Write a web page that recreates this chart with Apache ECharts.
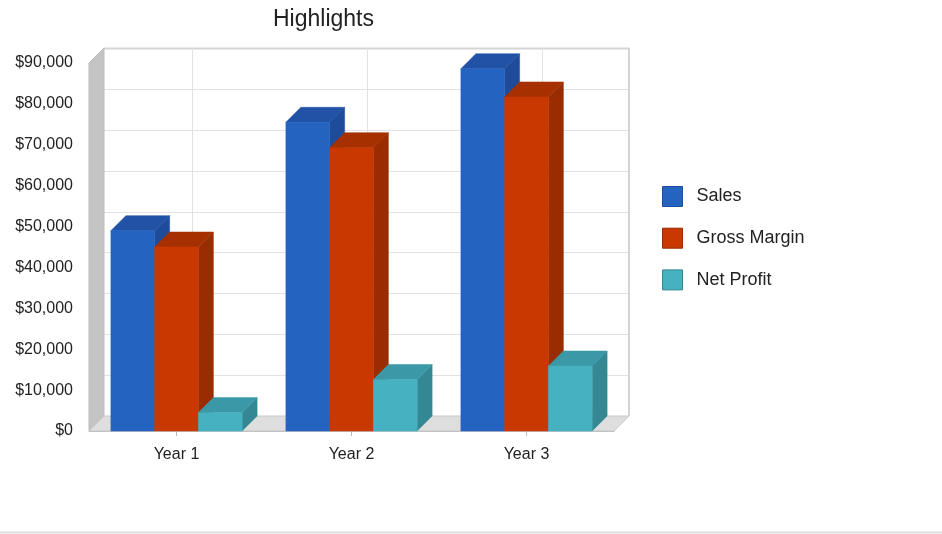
<!DOCTYPE html>
<html>
<head>
<meta charset="utf-8">
<script src="https://cdn.jsdelivr.net/npm/echarts@6/dist/echarts.min.js"></script>
<style>
html,body{margin:0;padding:0;background:#fff;}
#chart{width:942px;height:534px;}
</style>
</head>
<body>
<div id="chart"></div>
<script>
const categories = ['Year 1', 'Year 2', 'Year 3'];
const seriesNames = ['Sales', 'Gross Margin', 'Net Profit'];
const sales = [49000, 75500, 88600];
const grossMargin = [45000, 69300, 81700];
const netProfit = [4500, 12600, 15900];
const yMin = 0, yMax = 90000, yStep = 10000;

const DX = 15, DY = -15;
const FONT = '"Liberation Sans", Arial, sans-serif';

const palettes = [
  { front: '#2563C1', top: '#2152A6', side: '#1E4C9A' },
  { front: '#C83800', top: '#A63000', side: '#992C00' },
  { front: '#46B1C1', top: '#3B99A7', side: '#348893' }
];

function fmt(v) {
  return '$' + String(v).replace(/\B(?=(\d{3})+(?!\d))/g, ',');
}

function barRenderer(sIdx) {
  const p = palettes[sIdx];
  return function (params, api) {
    const ci = api.value(0), v = api.value(1);
    const c = api.coord([ci, v]);
    const b = api.coord([ci, 0]);
    const catW = api.size([1, 0])[0];
    const bw = catW * 0.25;
    const x = c[0] + (sIdx - 1) * bw - bw / 2;
    const yT = c[1], yB = b[1];
    return {
      type: 'group',
      children: [
        { type: 'polygon', shape: { points: [[x + bw, yT], [x + bw + DX, yT + DY], [x + bw + DX, yB + DY], [x + bw, yB]] },
          style: { fill: p.side, stroke: p.side, lineWidth: 0.5 } },
        { type: 'polygon', shape: { points: [[x, yT], [x + DX, yT + DY], [x + bw + DX, yT + DY], [x + bw, yT]] },
          style: { fill: p.top, stroke: p.top, lineWidth: 0.5 } },
        { type: 'rect', shape: { x: x, y: yT, width: bw, height: yB - yT },
          style: { fill: p.front, stroke: p.front, lineWidth: 0.5 } }
      ]
    };
  };
}

function frameRenderer(params, api) {
  const cs = params.coordSys;
  const x0 = cs.x, x1 = cs.x + cs.width, yt = cs.y, yb = cs.y + cs.height;
  const children = [];
  children.push({ type: 'rect', shape: { x: x0 + DX, y: yt + DY, width: cs.width, height: cs.height },
    style: { fill: '#ffffff' } });
  for (let v = yMin; v <= yMax; v += yStep) {
    const y = Math.round(api.coord([0, v])[1] + DY) + 0.5;
    children.push({ type: 'line', shape: { x1: x0 + DX, y1: y, x2: x1 + DX, y2: y },
      style: { stroke: v === yMax ? '#D4D4D4' : '#E2E2E2', lineWidth: v === yMax ? 2 : 1 } });
  }
  categories.forEach(function (c, i) {
    const x = Math.round(api.coord([i, 0])[0] + DX) + 0.5;
    children.push({ type: 'line', shape: { x1: x, y1: yt + DY, x2: x, y2: yb + DY },
      style: { stroke: '#E2E2E2', lineWidth: 1 } });
  });
  children.push({ type: 'line', shape: { x1: x1 + DX, y1: yt + DY, x2: x1 + DX, y2: yb + DY },
    style: { stroke: '#D4D4D4', lineWidth: 2 } });
  children.push({ type: 'polygon', shape: { points: [[x0, yt], [x0 + DX, yt + DY], [x0 + DX, yb + DY], [x0, yb]] },
    style: { fill: '#C4C4C4', stroke: '#BDBDBD', lineWidth: 1 } });
  children.push({ type: 'polygon', shape: { points: [[x0, yb], [x0 + DX, yb + DY], [x1 + DX, yb + DY], [x1, yb]] },
    style: { fill: '#DEDEDE', stroke: '#C8C8C8', lineWidth: 1 } });
  return { type: 'group', children: children };
}

const dataSets = [sales, grossMargin, netProfit];

const chart = echarts.init(document.getElementById('chart'), null, { renderer: 'canvas' });
chart.setOption({
  animation: false,
  backgroundColor: '#ffffff',
  title: {
    text: 'Highlights', left: 268, top: 3,
    textStyle: { fontFamily: FONT, fontSize: 23, fontWeight: 'normal', color: '#222222' }
  },
  legend: {
    orient: 'vertical', left: 657, top: 181,
    itemWidth: 20, itemHeight: 20, itemGap: 20.7,
    icon: 'rect',
    data: seriesNames.map(function (n, i) {
      return { name: n, itemStyle: { color: palettes[i].front, borderColor: palettes[i].side, borderWidth: 1 } };
    }),
    textStyle: { fontFamily: FONT, fontSize: 18, color: '#222222', padding: [0, 0, 0, 9] }
  },
  grid: { left: 89, right: 328, top: 63, bottom: 103 },
  xAxis: {
    type: 'category', data: categories,
    axisLine: { show: true, lineStyle: { color: '#BDBDBD' } },
    axisTick: { show: true, alignWithLabel: true, length: 5, lineStyle: { color: '#BDBDBD' } },
    axisLabel: { fontFamily: FONT, fontSize: 16, color: '#222222', margin: 16 },
    splitLine: { show: false }
  },
  yAxis: {
    type: 'value', min: yMin, max: yMax, interval: yStep,
    axisLine: { show: false }, axisTick: { show: false }, splitLine: { show: false },
    axisLabel: { fontFamily: FONT, fontSize: 16, color: '#222222', margin: 16, formatter: fmt, padding: [4, 0, 0, 0] }
  },
  graphic: [
    { type: 'line', shape: { x1: 0, y1: 532.5, x2: 942, y2: 532.5 }, style: { stroke: '#DDDDDD', lineWidth: 2 } }
  ],
  series: [
    { type: 'custom', name: '_frame', renderItem: frameRenderer, data: [[0, 0]], z: 1, silent: true,
      encode: { x: 0, y: 1 } }
  ].concat(dataSets.map(function (arr, s) {
    return {
      type: 'custom', name: seriesNames[s], z: 2 + s,
      itemStyle: { color: palettes[s].front },
      renderItem: barRenderer(s),
      encode: { x: 0, y: 1 },
      data: arr.map(function (v, i) { return [i, v]; })
    };
  }))
});
</script>
</body>
</html>
